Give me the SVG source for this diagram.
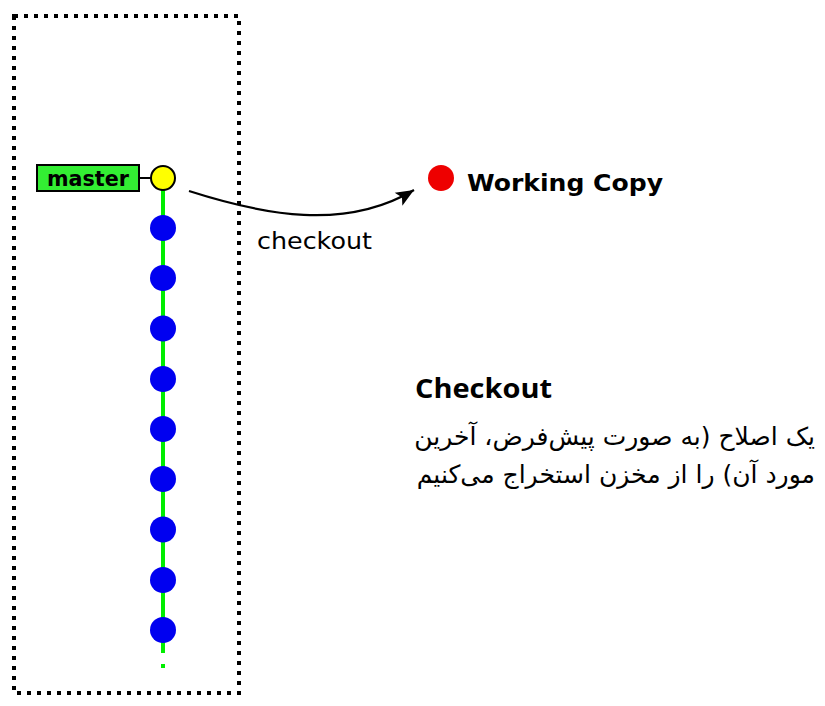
<svg xmlns="http://www.w3.org/2000/svg" width="825" height="706" viewBox="0 0 825 706">
<style>
.commit{fill:#0000f0}
.lbl{font-family:"DejaVu Sans",sans-serif;fill:#000}
.fa{font-family:"DejaVu Sans","Noto Sans",sans-serif;font-size:25px;fill:#000}
</style>
<defs>
<marker id="arr" markerUnits="userSpaceOnUse" viewBox="-19 -9 21 18" refX="0" refY="0" markerWidth="21" markerHeight="18" orient="auto">
<path d="M0,0 L-18,-7.5 L-14,0 L-18,7.5 Z" fill="#000"/>
</marker>
</defs>
<rect width="825" height="706" fill="#fff"/>
<g id="frame">
<rect x="14" y="16" width="225" height="677" fill="none" stroke="#000" stroke-width="4" stroke-dasharray="4 6"/>
</g>
<g id="branch">
<line x1="163" y1="190" x2="163" y2="653" stroke="#00ee00" stroke-width="4"/>
<rect x="161" y="664" width="4" height="4" fill="#00ee00"/>
</g>
<g id="master">
<rect x="37" y="165" width="102" height="26" fill="#33ee33" stroke="#000" stroke-width="2"/>
<text class="lbl" x="47" y="186" font-size="21" font-weight="bold" textLength="82" lengthAdjust="spacingAndGlyphs">master</text>
<line x1="139" y1="178" x2="151" y2="178" stroke="#000" stroke-width="2"/>
</g>
<g id="head">
<circle cx="163" cy="178" r="12" fill="#ffff00" stroke="#000" stroke-width="2"/>
</g>
<g id="commits">
<circle class="commit" cx="163" cy="228" r="13"/>
<circle class="commit" cx="163" cy="278" r="13"/>
<circle class="commit" cx="163" cy="328.5" r="13"/>
<circle class="commit" cx="163" cy="379" r="13"/>
<circle class="commit" cx="163" cy="429" r="13"/>
<circle class="commit" cx="163" cy="479" r="13"/>
<circle class="commit" cx="163" cy="529.5" r="13"/>
<circle class="commit" cx="163" cy="580" r="13"/>
<circle class="commit" cx="163" cy="630" r="13"/>
</g>
<g id="connectors">
<path d="M189,191 C264,215 345,231 414,190" fill="none" stroke="#000" stroke-width="2.2" marker-end="url(#arr)"/>
<text class="lbl" x="257" y="249" font-size="23" textLength="115" lengthAdjust="spacingAndGlyphs">checkout</text>
</g>
<g id="working-copy">
<circle cx="441" cy="178" r="13" fill="#ee0000"/>
<text class="lbl" x="467" y="191" font-size="22.5" font-weight="bold" textLength="196" lengthAdjust="spacingAndGlyphs">Working Copy</text>
</g>
<g id="description">
<text x="415" y="398" font-family="'Open Sans','Noto Sans',sans-serif" font-size="26" font-weight="bold" textLength="137" lengthAdjust="spacingAndGlyphs">Checkout</text>
<text class="fa" x="815" y="445" direction="rtl" text-anchor="start">یک اصلاح (به صورت پیش‌فرض، آخرین</text>
<text class="fa" x="815" y="483" direction="rtl" text-anchor="start">مورد آن) را از مخزن استخراج می‌کنیم</text>
</g>
</svg>
